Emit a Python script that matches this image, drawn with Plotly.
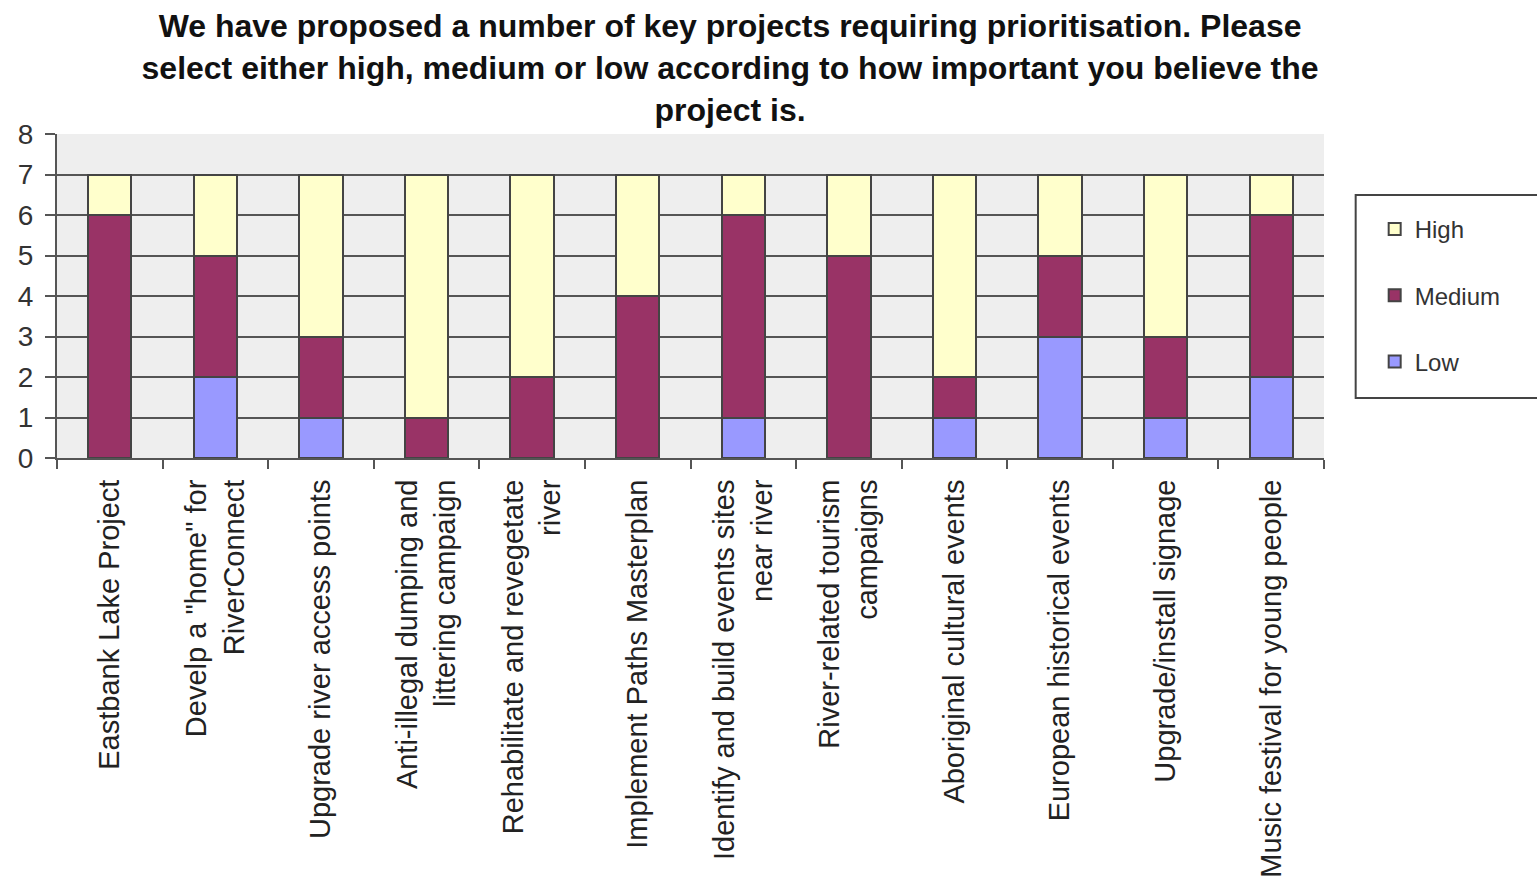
import plotly.graph_objects as go

# Project names shown on the category axis
projects = [
    "Eastbank Lake Project",
    "Develp a \"home\" for<br>RiverConnect",
    "Upgrade river access points",
    "Anti-illegal dumping and<br>littering campaign",
    "Rehabilitate and revegetate<br>river",
    "Implement Paths Masterplan",
    "Identify and build events sites<br>near river",
    "River-related tourism<br>campaigns",
    "Aboriginal cultural events",
    "European historical events",
    "Upgrade/install signage",
    "Music festival for young people",
]

# Number of responses per priority level
low = [0, 2, 1, 0, 0, 0, 1, 0, 1, 3, 1, 2]
medium = [6, 3, 2, 1, 2, 4, 5, 5, 1, 2, 2, 4]
high = [1, 2, 4, 6, 5, 3, 1, 2, 5, 2, 4, 1]

y_ticks = [0, 1, 2, 3, 4, 5, 6, 7, 8]

# (name, values, colour, legend rank) - stacked bottom to top
series = [
    ("Low", low, "#9999FF", 3),
    ("Medium", medium, "#993366", 2),
    ("High", high, "#FFFFCC", 1),
]

fig = go.Figure()
for name, vals, color, rank in series:
    fig.add_trace(go.Bar(
        x=projects, y=vals, name=name,
        marker=dict(color=color, line=dict(color="#444444", width=2)),
        legendgroup=name, legendrank=rank,
    ))

grid_col = "#555555"
fig.update_layout(
    width=1537, height=891,
    barmode="stack", bargap=0.59,
    plot_bgcolor="#EEEEEE", paper_bgcolor="white",
    margin=dict(l=57, r=213, t=134, b=433),
    title=dict(
        text="We have proposed a number of key projects requiring prioritisation. Please<br>"
             "select either high, medium or low according to how important you believe the<br>"
             "project is.",
        x=0.475, xanchor="center", y=0.958, yanchor="top",
        font=dict(family="Liberation Sans Narrow, Arial Narrow, Liberation Sans, Arial",
                  size=32, color="#111111", weight="bold"),
    ),
    font=dict(family="Liberation Sans, Arial, sans-serif", color="#222222"),
    legend=dict(
        x=1.04, xanchor="left", y=0.775, yanchor="top",
        traceorder="grouped", tracegroupgap=32,
        font=dict(size=24, color="#333333"),
        bgcolor="rgba(0,0,0,0)", borderwidth=0,
        itemwidth=30,
    ),
    shapes=[dict(
        type="rect", xref="paper", yref="paper",
        x0=1.025, x1=1.3, y0=(458 - 398) / 324, y1=(458 - 195) / 324,
        line=dict(color="#444444", width=2), fillcolor="rgba(0,0,0,0)",
    )],
)

fig.update_yaxes(
    range=[0, 8], tickvals=y_ticks, ticktext=[str(v) for v in y_ticks],
    showgrid=True, gridcolor=grid_col, gridwidth=2,
    ticks="outside", ticklen=10, tickwidth=2, tickcolor=grid_col,
    showline=True, linecolor=grid_col, linewidth=2,
    tickfont=dict(size=28, color="#333333", family="Liberation Sans, Arial"),
    ticklabelstandoff=6,
    zeroline=False,
)
fig.update_xaxes(
    tickangle=-90, tickson="boundaries",
    ticks="outside", ticklen=9, tickwidth=2, tickcolor=grid_col,
    showline=True, linecolor=grid_col, linewidth=2, mirror=False,
    showgrid=False,
    tickfont=dict(size=29, color="#222222"),
    ticklabelstandoff=8,
)

fig.write_html("out.html")
